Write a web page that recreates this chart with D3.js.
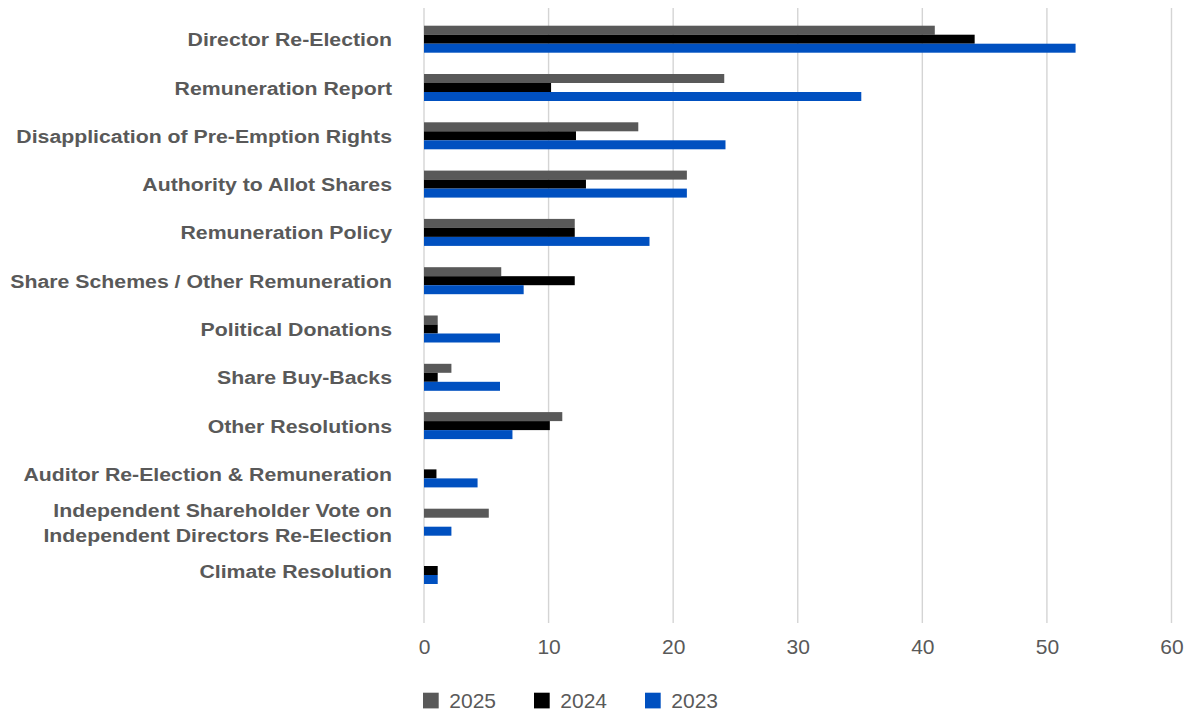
<!DOCTYPE html>
<html>
<head>
<meta charset="utf-8">
<script src="https://cdn.jsdelivr.net/npm/d3@7"></script>
<style>
  html, body { margin: 0; padding: 0; background: #ffffff; }
  svg { display: block; }
</style>
</head>
<body>
<svg id="chart" width="1189" height="711"></svg>
<script>
const categories = [
  "Director Re-Election",
  "Remuneration Report",
  "Disapplication of Pre-Emption Rights",
  "Authority to Allot Shares",
  "Remuneration Policy",
  "Share Schemes / Other Remuneration",
  "Political Donations",
  "Share Buy-Backs",
  "Other Resolutions",
  "Auditor Re-Election & Remuneration",
  "Independent Shareholder Vote on\nIndependent Directors Re-Election",
  "Climate Resolution"
];
const seriesNames = ["2025", "2024", "2023"];
const values2025 = [41.0, 24.1, 17.2, 21.1, 12.1, 6.2, 1.1, 2.2, 11.1, 0, 5.2, 0];
const values2024 = [44.2, 10.2, 12.2, 13.0, 12.1, 12.1, 1.1, 1.1, 10.1, 1.0, 0, 1.1];
const values2023 = [52.3, 35.1, 24.2, 21.1, 18.1, 8.0, 6.1, 6.1, 7.1, 4.3, 2.2, 1.1];
const xTicks = [0, 10, 20, 30, 40, 50, 60];
const seriesColors = ["#595959", "#000000", "#0050c0"];

const seriesValues = [values2025, values2024, values2023];
const svg = d3.select("#chart");
const textColor = "#595959";

const x = d3.scaleLinear().domain([0, 60]).range([424, 1171.5]);
const y = d3.scaleBand().domain(categories).range([15.05, 594.65]).padding(0);
const groupH = 27;
const sub = d3.scaleBand().domain(seriesNames).range([0, groupH]).padding(0);
const gridTop = 8, gridBottom = 623;

// gridlines
svg.append("g").selectAll("line").data(xTicks).join("line")
  .attr("x1", d => x(d)).attr("x2", d => x(d))
  .attr("y1", gridTop).attr("y2", gridBottom)
  .attr("stroke", "#d4d4d4").attr("stroke-width", 1.4);

// bars
const rows = categories.map((c, i) => ({ c, vals: seriesNames.map((s, j) => ({ s, j, v: seriesValues[j][i] })) }));
const g = svg.append("g").selectAll("g").data(rows).join("g")
  .attr("transform", d => `translate(0,${y(d.c) + y.bandwidth() / 2 - groupH / 2})`);
g.selectAll("rect").data(d => d.vals.filter(e => e.v > 0)).join("rect")
  .attr("x", x(0))
  .attr("y", d => sub(d.s))
  .attr("width", d => x(d.v) - x(0))
  .attr("height", sub.bandwidth())
  .attr("fill", d => seriesColors[d.j]);

// x axis tick labels
const xAxis = d3.axisBottom(x).tickValues(xTicks).tickSize(0).tickPadding(0);
const xg = svg.append("g").attr("transform", `translate(0,${gridBottom})`).call(xAxis);
xg.select(".domain").remove();
xg.selectAll("text")
  .attr("dy", null)
  .attr("y", 30.5)
  .attr("fill", textColor)
  .attr("font-family", "'Liberation Sans', Arial, sans-serif")
  .attr("font-size", "21px");

// y axis labels
const yAxis = d3.axisLeft(y).tickSize(0).tickPadding(0).tickFormat(() => "");
const yg = svg.append("g").attr("transform", `translate(392,0)`).call(yAxis);
yg.select(".domain").remove();
yg.selectAll(".tick").each(function(d) {
  const t = d3.select(this).select("text");
  const lines = d.split("\n");
  const lh = 25;
  t.text(null)
    .attr("x", 0).attr("dy", null)
    .attr("y", 0)
    .attr("text-anchor", "end")
    .attr("fill", textColor)
    .attr("font-family", "'Liberation Sans', Arial, sans-serif")
    .attr("font-weight", "bold")
    .attr("font-size", "19px")
    .attr("transform", "scale(1.12,1)");
  lines.forEach((ln, k) => {
    t.append("tspan")
      .attr("x", 0)
      .attr("y", (k - (lines.length - 1) / 2) * lh + 7)
      .text(ln);
  });
});

// legend
const legend = svg.append("g").attr("transform", "translate(423,692.7)");
const li = legend.selectAll("g").data(seriesNames).join("g")
  .attr("transform", (d, i) => `translate(${i * 111},0)`);
li.append("rect").attr("width", 15.7).attr("height", 15.7)
  .attr("fill", (d, i) => seriesColors[i]);
li.append("text").attr("x", 26.3).attr("y", 15.4)
  .attr("fill", textColor)
  .attr("font-family", "'Liberation Sans', Arial, sans-serif")
  .attr("font-size", "21px")
  .text(d => d);
</script>
</body>
</html>
